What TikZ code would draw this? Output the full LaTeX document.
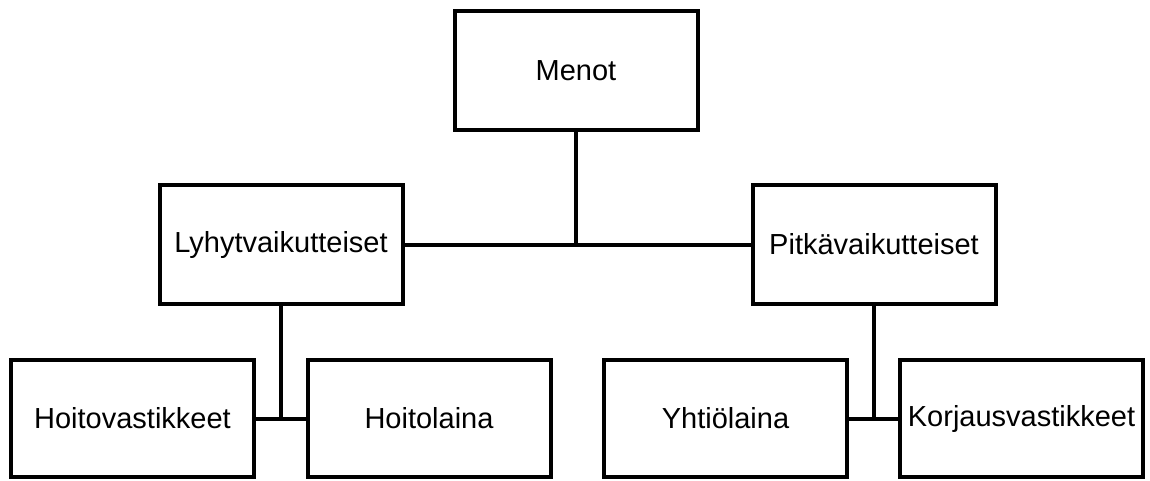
\documentclass[tikz,border=0pt]{standalone}
\usepackage{fontspec}
\setmainfont{Liberation Sans}
\usetikzlibrary{positioning}
\tikzset{
  box/.style={
    rectangle, draw=black, fill=white, line width=4pt,
    minimum width=243pt, minimum height=119pt, inner sep=0pt,
    font=\fontsize{29}{35}\selectfont
  },
  leaf/.style={box, minimum height=117pt},
  conn/.style={draw=black, line width=4pt}
}
\begin{document}
\begin{tikzpicture}[x=1pt, y=-1pt]
  \useasboundingbox (0,0) rectangle (1150,480);

  % Top level
  \node[box] (menot) at (576,70.5) {Menot};

  % Middle level
  \node[box] (lyhyt) at (281,244.5) {Lyhytvaikutteiset};
  \node[box] (pitka) at (874,244.5) {Pitkävaikutteiset};

  % Bottom level
  \node[leaf] (hoitov) at (132.5,418.5) {Hoitovastikkeet};
  \node[leaf] (hoitol) at (429,418.5)   {Hoitolaina};
  \node[leaf] (yhtio)  at (725.5,418.5) {Yhtiölaina};
  \node[leaf] (korj)   at (1021.5,418.5){Korjausvastikkeet};

  % Connectors
  \draw[conn] (menot.south) -- (menot.south |- lyhyt.east);
  \draw[conn] (lyhyt.east) -- (pitka.west);
  \draw[conn] (lyhyt.south) -- (lyhyt.south |- hoitov.east);
  \draw[conn] (hoitov.east) -- (hoitol.west);
  \draw[conn] (pitka.south) -- (pitka.south |- yhtio.east);
  \draw[conn] (yhtio.east) -- (korj.west);
\end{tikzpicture}
\end{document}
